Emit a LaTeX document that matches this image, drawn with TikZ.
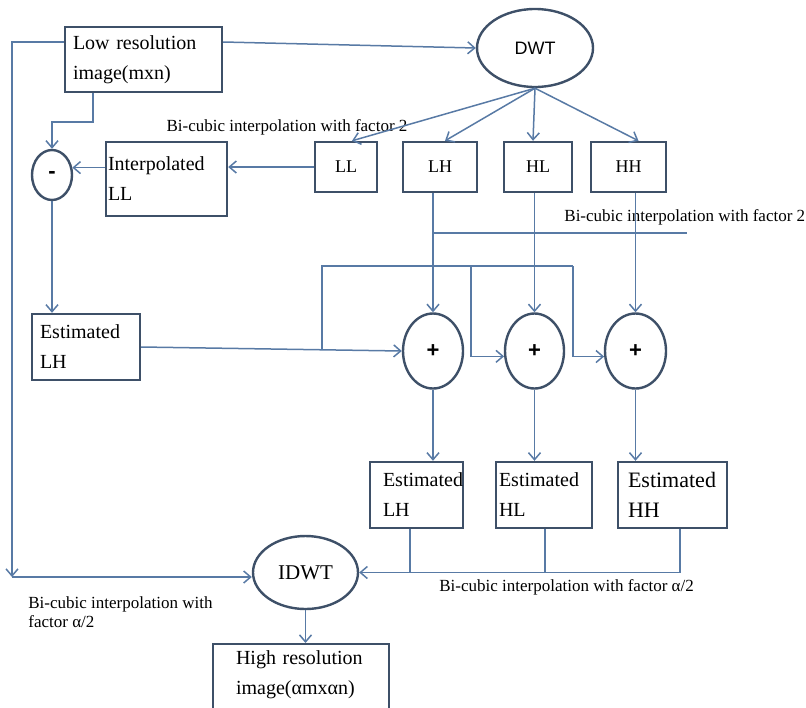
\documentclass[tikz,border=0pt]{standalone}
\usepackage{fontspec}
\setmainfont{Liberation Serif}
\newfontfamily\arialfont{Liberation Sans}
\usetikzlibrary{arrows.meta,shapes.geometric}
\definecolor{lineblue}{RGB}{88,122,165}
\definecolor{edgeblue}{RGB}{62,80,104}
\begin{document}
\begin{tikzpicture}[x=0.5pt,y=-0.5pt,
    >={Straight Barb[length=3.5pt,width=6pt]},
    wire/.style={draw=lineblue, line width=0.75pt},
    box/.style={draw=edgeblue, line width=1.2pt, fill=white, inner ysep=2pt,
      font=\fontsize{10}{15}\selectfont},
    note/.style={box, align=left},
    sub/.style={box, minimum height=25pt, font=\fontsize{9}{11}\selectfont},
    blob/.style={ellipse, draw=edgeblue, line width=1.2pt, fill=white, inner sep=0pt},
    sumop/.style={blob, minimum width=30pt, minimum height=37.5pt,
      font=\arialfont\bfseries\fontsize{11}{12}\selectfont},
    lbl/.style={inner sep=0pt, font=\fontsize{8.5}{10}\selectfont}]
  \useasboundingbox (0,0) rectangle (806,707);
  \clip (0,0) rectangle (806,707);

  % input and the first transform
  \node[note, text width=70.5pt, inner xsep=4pt, minimum height=32.5pt] (low) at (143.5,59.5) {Low resolution\\image(mxn)};
  \node[blob, minimum width=58pt, minimum height=39pt, font=\arialfont\fontsize{9}{11}\selectfont] (dwt) at (535,48) {DWT};

  % sub-bands
  \node[sub, minimum width=31pt] (ll) at (346,167) {LL};
  \node[sub, minimum width=37pt] (lh) at (440,167) {LH};
  \node[sub, minimum width=34pt] (hl) at (538,167) {HL};
  \node[sub, minimum width=37.5pt] (hh) at (628.5,167) {HH};

  \node[note, text width=58.5pt, inner xsep=1pt, minimum height=37pt] (interp) at (166.5,179) {Interpolated\\LL};
  \node[blob, minimum width=20pt, minimum height=25pt, font=\arialfont\bfseries\fontsize{11}{12}\selectfont] (minus) at (52,175) {-};
  \node[note, text width=46pt, inner xsep=4pt, minimum height=33pt] (est) at (86,347) {Estimated\\LH};

  % adders
  \node[sumop] (plus1) at (433,351) {+};
  \node[sumop, minimum width=29.5pt] (plus2) at (534.5,351) {+};
  \node[sumop, minimum width=30.5pt] (plus3) at (635.5,351) {+};

  \node[note, text width=33.5pt, inner xsep=6.5pt, minimum height=33pt] (elh) at (416.5,495) {Estimated\\LH};
  \node[note, text width=45pt, inner xsep=1.5pt, minimum height=33pt] (ehl) at (544,495) {Estimated\\HL};
  \node[note, text width=44.5pt, inner xsep=5pt, minimum height=33pt, font=\fontsize{11}{15}\selectfont] (ehh) at (672.5,495) {Estimated\\HH};

  % output
  \node[blob, minimum width=52.5pt, minimum height=36.5pt, font=\fontsize{10.5}{12}\selectfont] (idwt) at (305.5,572.5) {IDWT};
  \node[note, anchor=north, text width=65pt, inner xsep=11.5pt, inner ysep=3pt] (high) at (301,643) {High resolution\\image(αmxαn)\\\mbox{}};

  % labels
  \node[lbl] (t1) at (287,127) {Bi-cubic interpolation with factor 2};
  \node[lbl, anchor=west] (t2) at (564,217) {Bi-cubic interpolation with factor 2};
  \node[lbl, anchor=west] (t3) at (439,587) {Bi-cubic interpolation with factor α/2};
  \node[lbl, anchor=north west, align=left, font=\fontsize{8.5}{9.5}\selectfont] (t4) at (28,596) {Bi-cubic interpolation with\\factor α/2};

  % connectors
  \coordinate (lc) at (12,577);
  \coordinate (b0) at (322,350);
  \coordinate (b1) at (471,266);
  \coordinate (b2) at (573,266);
  \coordinate (r2) at (687,233);

  \draw[wire,->] (low.east |- 0,42) -- (dwt.west);
  \draw[wire,->] (low.west |- 0,42) -| (lc);
  \draw[wire,->] (lc) -- (lc -| idwt.west);
  \foreach \n/\s in {ll/3pt,lh/2.5pt,hl/-2.5pt,hh/5pt}
    \draw[wire,->] (dwt.south) -- ([xshift=\s]\n.north);
  \draw[wire,->] (ll.west) -- (ll.west -| interp.east);
  \draw[wire,->] (interp.west |- minus.20) -- (minus.20);
  \draw[wire,->] (low.south -| 93,0) |- (minus.north |- 0,122) -- (minus.north);
  \draw[wire,->] (minus.south) -- (minus.south |- est.north);
  \draw[wire,->] (est.east) -- (plus1.west);
  \draw[wire] (b0) |- (b2);
  \draw[wire,->] (b1) |- (plus2.190);
  \draw[wire,->] (b2) |- (plus3.190);
  \draw[wire] (plus1.north |- r2) -- (r2);
  \draw[wire,->] (lh.south -| plus1.north) -- (plus1.north);
  \draw[wire,->] (hl.south -| plus2.north) -- (plus2.north);
  \draw[wire,->] (hh.south -| plus3.north) -- (plus3.north);
  \draw[wire,->] (plus1.south) -- (plus1.south |- elh.north);
  \draw[wire,->] (plus2.south) -- (plus2.south |- ehl.north);
  \draw[wire,->] (plus3.south) -- (plus3.south |- ehh.north);
  \draw[wire,->] (ehh.south -| 680,0) |- (idwt.east);
  \draw[wire] (elh.south -| 410,0) -- (idwt.east -| 410,0);
  \draw[wire] (ehl.south -| 545,0) -- (idwt.east -| 545,0);
  \draw[wire,->] (idwt.south) -- (idwt.south |- high.north);
\end{tikzpicture}
\end{document}
